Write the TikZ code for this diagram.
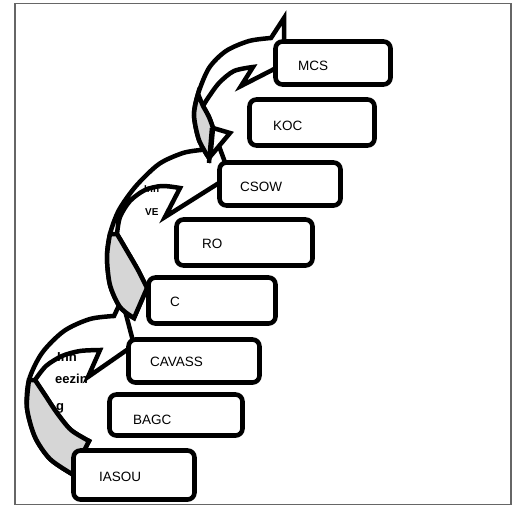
\documentclass[tikz,border=0pt]{standalone}
\usepackage{fontspec}
\setmainfont{Liberation Sans}
\begin{document}
\begin{tikzpicture}[x=1pt,y=-1pt,
  stepbox/.style={draw=black, line width=4.6pt, rounded corners=7pt, fill=white, inner sep=0pt},
  boxtext/.style={anchor=west, font=\fontsize{13.5}{15}\selectfont, inner sep=0pt},
  arrowline/.style={draw=black, line width=4.5pt, line join=miter, miter limit=6},
  frontface/.style={arrowline, fill=white},
  backface/.style={arrowline, fill=black!16},
  arrowtext/.style={anchor=west, font=\bfseries\fontsize{13}{14}\selectfont, inner sep=0pt},
  smalltext/.style={anchor=west, font=\bfseries\fontsize{10}{11}\selectfont, inner sep=0pt},
  ]
\useasboundingbox (0,0) rectangle (513,506);
\fill[white] (0,0) rectangle (513,506);
\draw[black!60, line width=1.2pt] (15,3.5) rectangle (511,504.5);

% ---- curved arrow 1 (IASOU -> CAVASS)
\draw[frontface] plot[smooth] coordinates {(72,474) (50,459) (35,437) (27,408) (29,380) (42,353) (64,331) (90,319) (114,316)}
  -- (122,299) -- (134,345) -- (88,377) -- (100,350)
  -- plot[smooth] coordinates {(100,350) (80,351) (62,356) (46,366) (35,380)}
  -- plot[smooth] coordinates {(35,380) (45,395) (57,413) (71,430) (89,441)} -- cycle;
\draw[backface] plot[smooth] coordinates {(72,474) (50,459) (35,437) (27,408) (29,380)}
  -- plot[smooth] coordinates {(35,380) (45,395) (57,413) (71,430) (89,441)} -- cycle;

% ---- curved arrow 2 (C -> CSOW)
\draw[frontface] plot[smooth] coordinates {(134,318) (120,307) (110,285) (107,257) (110,234) (119,210) (136,186) (159,164) (183,153) (201,150)}
  -- (212,127) -- (230,176) -- (165,217) -- (180,188)
  -- plot[smooth] coordinates {(180,188) (162,186) (145,190) (130,201) (120,217) (117,234)}
  -- plot[smooth] coordinates {(117,234) (127,251) (138,270) (147,288)} -- cycle;
\draw[backface] plot[smooth] coordinates {(134,318) (120,307) (110,285) (107,257) (110,234)}
  -- plot[smooth] coordinates {(117,234) (127,251) (138,270) (147,288)} -- cycle;

% ---- curved arrow 3 (CSOW -> MCS)
\draw[frontface] plot[smooth] coordinates {(209,158) (199,140) (194,115) (198,94) (209,68) (226,51) (249,41) (271,38)}
  -- (284,18) -- (284,64) -- (241,86) -- (253,67)
  -- plot[smooth] coordinates {(253,67) (234,71) (219,83) (208,98) (203,106)}
  -- plot[smooth] coordinates {(203,106) (209,117) (213,128)} -- (230,133) -- cycle;
\draw[backface] plot[smooth] coordinates {(209,158) (199,140) (194,115) (198,94)}
  -- plot[smooth] coordinates {(203,106) (209,117) (213,128)} -- (211,150) -- cycle;
\draw[arrowline] (212,128) -- (209,163);

% ---- arrow labels
\node[arrowtext] (l1a) at (57,357) {Inn};
\node[arrowtext] (l1b) at (55,379) {eezin};
\node[arrowtext] (l1c) at (56,408) {g};
\node[smalltext] (l2a) at (144,189) {Inn};
\node[smalltext] (l2b) at (145,212) {VE};

% ---- step boxes
\node[stepbox, minimum width=115pt, minimum height=43pt] (mcs) at (333,63) {};
\node[stepbox, minimum width=125pt, minimum height=46pt] (koc) at (312,122.5) {};
\node[stepbox, minimum width=121pt, minimum height=43pt] (csow) at (280,184) {};
\node[stepbox, minimum width=136pt, minimum height=46pt] (ro) at (244.5,242.5) {};
\node[stepbox, minimum width=127pt, minimum height=46pt] (c) at (212,300.5) {};
\node[stepbox, minimum width=131pt, minimum height=43pt] (cavass) at (194,361) {};
\node[stepbox, minimum width=133pt, minimum height=41pt] (bagc) at (176,415) {};
\node[stepbox, minimum width=121pt, minimum height=49pt] (iasou) at (134,475) {};

\node[boxtext] (mcsT) at (298,66) {MCS};
\node[boxtext] (kocT) at (273,126) {KOC};
\node[boxtext] (csowT) at (240,187) {CSOW};
\node[boxtext] (roT) at (202,244) {RO};
\node[boxtext] (cT) at (170,302) {C};
\node[boxtext] (cavassT) at (150,362) {CAVASS};
\node[boxtext] (bagcT) at (133,420) {BAGC};
\node[boxtext] (iasouT) at (99,477) {IASOU};
\end{tikzpicture}
\end{document}
